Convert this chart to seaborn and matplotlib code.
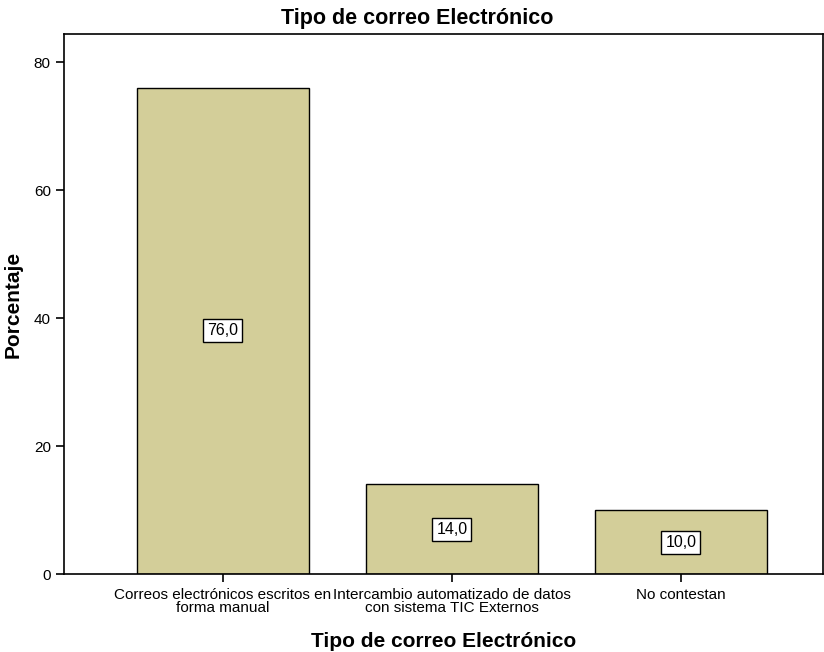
import matplotlib
matplotlib.use("Agg")
import matplotlib.pyplot as plt
import seaborn as sns
import pandas as pd

# Chart data
categorias = ["Correos electrónicos escritos en\nforma manual",
              "Intercambio automatizado de datos\ncon sistema TIC Externos",
              "No contestan"]
porcentajes = [76.0, 14.0, 10.0]
etiquetas = ["76,0", "14,0", "10,0"]

df = pd.DataFrame({"categoria": categorias, "porcentaje": porcentajes})

sns.set_style("white")
plt.rcParams["font.family"] = ["Liberation Sans", "DejaVu Sans"]
plt.rcParams["text.color"] = "black"
plt.rcParams["axes.labelcolor"] = "black"

fig = plt.figure(figsize=(8.24, 6.52), dpi=100)
ax = fig.add_axes([64 / 824, 1 - 574 / 652, 759 / 824, 540 / 652])

sns.barplot(data=df, x="categoria", y="porcentaje", color="#D3CE99",
            width=0.75, edgecolor="black", linewidth=1.0, saturation=1, ax=ax)

# value labels in the middle of each bar
for i, (v, lab) in enumerate(zip(porcentajes, etiquetas)):
    ax.text(i, v / 2, lab, ha="center", va="center", fontsize=11.5, color="black",
            bbox=dict(boxstyle="square,pad=0.25", facecolor="white",
                      edgecolor="black", linewidth=1.0))

ax.set_xlim(-0.693, 2.62)
ax.set_ylim(0, 84.4)
ax.set_yticks([0, 20, 40, 60, 80])
ax.tick_params(axis="both", direction="out", length=6, width=1.2,
               labelsize=11, left=True, bottom=True, colors="black")
ax.tick_params(axis="x", pad=4)

for s in ax.spines.values():
    s.set_color("black")
    s.set_linewidth(1.2)

ax.set_title("Tipo de correo Electrónico", fontsize=15.5, fontweight="bold",
             pad=7, x=0.465, color="black")
ax.set_xlabel("Tipo de correo Electrónico", fontsize=15, fontweight="bold",
              labelpad=12, color="black")
ax.set_ylabel("Porcentaje", fontsize=15, fontweight="bold", labelpad=8, color="black")

for t in ax.get_xticklabels():
    t.set_linespacing(0.95)

fig.savefig("out.png", dpi=100)
